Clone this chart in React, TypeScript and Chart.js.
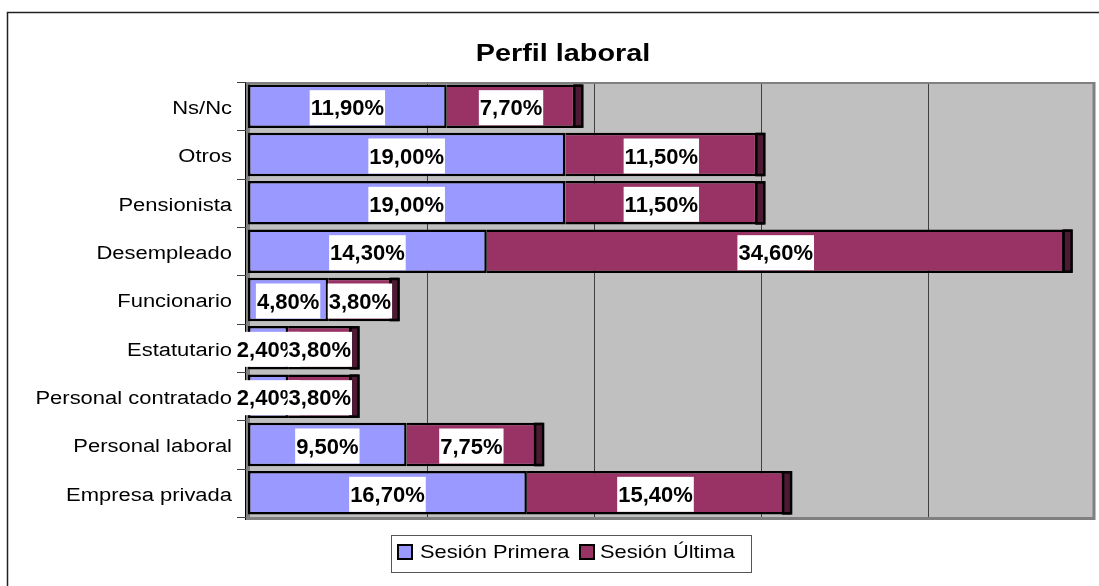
import React, { useEffect, useRef } from "react";
import { Chart, registerables } from "chart.js";
Chart.register(...registerables);

const categories = [
  "Ns/Nc",
  "Otros",
  "Pensionista",
  "Desempleado",
  "Funcionario",
  "Estatutario",
  "Personal contratado",
  "Personal laboral",
  "Empresa privada",
];
const sesionPrimera = [11.9, 19.0, 19.0, 14.3, 4.8, 2.4, 2.4, 9.5, 16.7];
const sesionUltima = [7.7, 11.5, 11.5, 34.6, 3.8, 3.8, 3.8, 7.75, 15.4];
const seriesNames = ["Sesión Primera", "Sesión Última"];
const titleText = "Perfil laboral";
const gridValues = [10, 20, 30, 40];
const axisMin = 0;
const axisMax = 50;

const FONT = '"Liberation Sans", Arial, sans-serif';
const BLUE = "#9999FF";
const PURPLE = "#993366";
const PURPLE_SIDE = "#4D1A33";
const WALL = "#C0C0C0";
const WALL_EDGE = "#808080";
const DEPTH = 12;

function fmt(v: number) {
  return v.toFixed(2).replace(".", ",") + "%";
}

function stretchText(
  ctx: CanvasRenderingContext2D,
  text: string,
  x: number,
  y: number,
  font: string,
  sx: number,
  align: CanvasTextAlign
) {
  ctx.save();
  ctx.font = font;
  ctx.textAlign = align;
  ctx.textBaseline = "middle";
  ctx.fillStyle = "#000";
  ctx.translate(x, y);
  ctx.scale(sx, 1);
  ctx.fillText(text, 0, 0);
  ctx.restore();
}

const decor = {
  id: "decor",
  beforeDraw(chart: any) {
    const ctx: CanvasRenderingContext2D = chart.ctx;
    const xs = chart.scales.x;
    const ys = chart.scales.y;
    const { top, bottom, left, right } = chart.chartArea;
    ctx.save();
    ctx.fillStyle = "#fff";
    ctx.fillRect(0, 0, chart.width, chart.height);

    // outer frame
    ctx.strokeStyle = "#222";
    ctx.lineWidth = 1.5;
    ctx.beginPath();
    ctx.moveTo(7.5, chart.height);
    ctx.lineTo(7.5, 12.5);
    ctx.lineTo(chart.width, 12.5);
    ctx.stroke();

    // title
    stretchText(ctx, titleText, 563, 54, `bold 24px ${FONT}`, 1.2, "center");

    // back wall
    const wallL = left + 2;
    const wallR = right + DEPTH;
    ctx.fillStyle = WALL;
    ctx.fillRect(wallL, top, wallR - wallL, bottom - top);
    ctx.strokeStyle = WALL_EDGE;
    ctx.lineWidth = 2;
    ctx.beginPath();
    ctx.moveTo(wallL, top + 1);
    ctx.lineTo(wallR, top + 1);
    ctx.stroke();
    ctx.lineWidth = 3;
    ctx.beginPath();
    ctx.moveTo(wallR - 1, top);
    ctx.lineTo(wallR - 1, bottom + 3);
    ctx.stroke();
    ctx.beginPath();
    ctx.moveTo(wallL, bottom + 1.5);
    ctx.lineTo(wallR, bottom + 1.5);
    ctx.stroke();

    // gridlines on back wall
    ctx.strokeStyle = "#404040";
    ctx.lineWidth = 1;
    for (const v of gridValues) {
      const gx = Math.round(xs.getPixelForValue(v) + DEPTH) + 0.5;
      ctx.beginPath();
      ctx.moveTo(gx, top + 2);
      ctx.lineTo(gx, bottom);
      ctx.stroke();
    }

    // side wall strip
    ctx.fillStyle = WALL_EDGE;
    ctx.fillRect(left - 2, top, 4, bottom - top + 3);

    // axis line
    ctx.strokeStyle = "#000";
    ctx.lineWidth = 1;
    ctx.beginPath();
    ctx.moveTo(left - 2.5, top);
    ctx.lineTo(left - 2.5, bottom + 3);
    ctx.stroke();

    // tick marks at category boundaries
    const step = (bottom - top) / categories.length;
    ctx.strokeStyle = "#404040";
    for (let i = 0; i <= categories.length; i++) {
      const ty = Math.round(top + i * step) + 0.5;
      ctx.beginPath();
      ctx.moveTo(left - 11, ty);
      ctx.lineTo(left - 2, ty);
      ctx.stroke();
    }

    // category labels
    categories.forEach((c, i) => {
      const cy = ys.getPixelForValue(i);
      stretchText(ctx, c, 232, cy + 3, `18px ${FONT}`, 1.22, "right");
    });
    ctx.restore();
  },
  afterDatasetsDraw(chart: any) {
    const ctx: CanvasRenderingContext2D = chart.ctx;
    ctx.save();
    // 3D depth side at end of each full bar
    const lastMeta = chart.getDatasetMeta(1);
    lastMeta.data.forEach((el: any) => {
      const h = el.height;
      const y0 = el.y - h / 2;
      ctx.fillStyle = PURPLE_SIDE;
      ctx.fillRect(el.x - 1, y0, 8, h);
      ctx.strokeStyle = "#000";
      ctx.lineWidth = 2.5;
      ctx.strokeRect(el.x - 1, y0 + 1.25, 8, h - 2.5);
    });

    // data labels
    ctx.font = `bold 22px ${FONT}`;
    ctx.textAlign = "center";
    ctx.textBaseline = "middle";
    [sesionPrimera, sesionUltima].forEach((arr, d) => {
      const meta = chart.getDatasetMeta(d);
      meta.data.forEach((el: any, i: number) => {
        const txt = fmt(arr[i]);
        const cx = (el.base + el.x) / 2;
        const cy = el.y + 1;
        const w = ctx.measureText(txt).width;
        ctx.fillStyle = "#fff";
        ctx.fillRect(cx - w / 2 - 1, cy - 17, w + 2, 35);
        ctx.fillStyle = "#000";
        ctx.fillText(txt, cx, cy + 2);
      });
    });

    // legend
    ctx.strokeStyle = "#555";
    ctx.lineWidth = 1;
    ctx.strokeRect(391.5, 535.5, 360, 37);
    const sw = [
      { x: 398, color: BLUE, tx: 420 },
      { x: 580, color: PURPLE, tx: 600 },
    ];
    sw.forEach((s, i) => {
      ctx.fillStyle = s.color;
      ctx.fillRect(s.x, 545, 14, 14);
      ctx.strokeStyle = "#000";
      ctx.lineWidth = 2;
      ctx.strokeRect(s.x, 545, 14, 14);
      stretchText(ctx, seriesNames[i], s.tx, 553, `19px ${FONT}`, 1.15, "left");
    });
    ctx.restore();
  },
};

export default function App() {
  const ref = useRef<HTMLCanvasElement | null>(null);
  useEffect(() => {
    if (!ref.current) return;
    const chart = new Chart(ref.current, {
      type: "bar",
      data: {
        labels: categories,
        datasets: [
          {
            label: seriesNames[0],
            data: sesionPrimera,
            backgroundColor: BLUE,
            borderColor: "#000",
            borderWidth: 2.5,
            borderSkipped: false,
            barPercentage: 0.9,
            categoryPercentage: 1,
          },
          {
            label: seriesNames[1],
            data: sesionUltima,
            backgroundColor: PURPLE,
            borderColor: "#000",
            borderWidth: 2.5,
            borderSkipped: "start",
            barPercentage: 0.9,
            categoryPercentage: 1,
          },
        ],
      },
      options: {
        indexAxis: "y",
        responsive: false,
        animation: false,
        devicePixelRatio: 1,
        layout: { padding: { left: 248, right: 16, top: 82, bottom: 69 } },
        scales: {
          x: { stacked: true, min: axisMin, max: axisMax, display: false },
          y: { stacked: true, display: false },
        },
        plugins: {
          legend: { display: false },
          title: { display: false },
          tooltip: { enabled: false },
        },
      },
      plugins: [decor],
    } as any);
    return () => chart.destroy();
  }, []);
  return (
    <div style={{ position: "absolute", left: 0, top: 0, width: 1099, height: 586 }}>
      <canvas ref={ref} width={1099} height={586} style={{ display: "block" }} />
    </div>
  );
}
